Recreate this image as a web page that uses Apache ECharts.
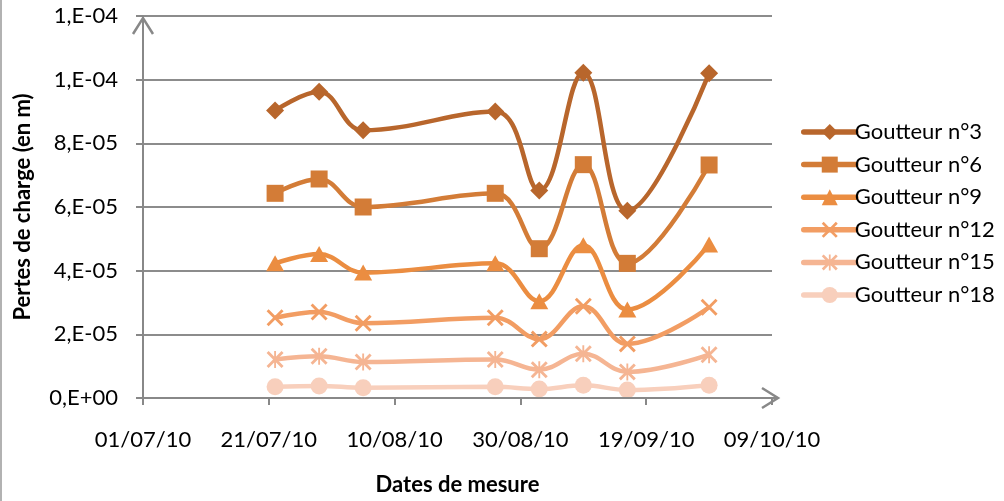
<!DOCTYPE html>
<html>
<head>
<meta charset="utf-8">
<script src="https://cdn.jsdelivr.net/npm/echarts@6/dist/echarts.min.js"></script>
<style>
  html, body { margin: 0; padding: 0; background: #fff; }
  #chart { width: 1004px; height: 501px; }
</style>
</head>
<body>
<div id="chart"></div>
<script>
// dates de mesure (jour/mois/annee)
const dates = ['22/07/10', '29/07/10', '05/08/10', '26/08/10', '02/09/10', '09/09/10', '16/09/10', '29/09/10'];
const seriesNames = ['Goutteur n°3', 'Goutteur n°6', 'Goutteur n°9', 'Goutteur n°12', 'Goutteur n°15', 'Goutteur n°18'];
// pertes de charge (en m)
const g3  = [9.03e-5, 9.62e-5, 8.41e-5, 9.00e-5, 6.52e-5, 10.22e-5, 5.88e-5, 10.20e-5];
const g6  = [6.43e-5, 6.88e-5, 6.00e-5, 6.43e-5, 4.69e-5, 7.33e-5, 4.23e-5, 7.32e-5];
const g9  = [4.23e-5, 4.52e-5, 3.94e-5, 4.23e-5, 3.04e-5, 4.80e-5, 2.78e-5, 4.82e-5];
const g12 = [2.52e-5, 2.70e-5, 2.35e-5, 2.52e-5, 1.85e-5, 2.88e-5, 1.70e-5, 2.85e-5];
const g15 = [1.21e-5, 1.31e-5, 1.13e-5, 1.21e-5, 0.89e-5, 1.39e-5, 0.82e-5, 1.36e-5];
const g18 = [0.35e-5, 0.38e-5, 0.32e-5, 0.35e-5, 0.28e-5, 0.40e-5, 0.25e-5, 0.40e-5];
const xTickStart = '01/07/10';

const colors = ['#B8662C', '#D37C37', '#EB8D41', '#F29D63', '#F5B593', '#F8CFBC'];
const FONT = 'Lato, "Open Sans", sans-serif';
const FS = 22;

function parseDate(s) {
    const p = s.split('/');
    return Date.UTC(2000 + (+p[2]), (+p[1]) - 1, +p[0]);
}
const DAY = 86400000;
const t0 = parseDate(xTickStart);
function dayOf(s) { return Math.round((parseDate(s) - t0) / DAY); }
function dayLabel(d) {
    const dt = new Date(t0 + d * DAY);
    const pad = n => (n < 10 ? '0' : '') + n;
    return pad(dt.getUTCDate()) + '/' + pad(dt.getUTCMonth() + 1) + '/' + pad(dt.getUTCFullYear() % 100);
}
// format Excel "0,E+00"
function sciLabel(v) {
    if (Math.abs(v) < 1e-20) return '0,E+00';
    let e = Math.floor(Math.log10(Math.abs(v)));
    let m = Math.round(v / Math.pow(10, e));
    if (m >= 10) { m = m / 10; e += 1; }
    const sign = e < 0 ? '-' : '+';
    const ae = Math.abs(e);
    return m + ',E' + sign + (ae < 10 ? '0' : '') + ae;
}

// symbols
const symX = 'path://M0,1.2L1.2,0L5,3.8L8.8,0L10,1.2L6.2,5L10,8.8L8.8,10L5,6.2L1.2,10L0,8.8L3.8,5Z';
const symStar = 'path://M0,1.2L1.2,0L5,3.8L8.8,0L10,1.2L6.2,5L10,8.8L8.8,10L5,6.2L1.2,10L0,8.8L3.8,5Z' +
    'M4.45,0L5.55,0L5.55,10L4.45,10Z';
const symbols = ['diamond', 'rect', 'triangle', symX, symStar, 'circle'];
const sizes = [[18, 18], [17, 17], [18, 16], [17, 17], [17, 17], [17, 17]];
const values = [g3, g6, g9, g12, g15, g18];

const chart = echarts.init(document.getElementById('chart'), null, { renderer: 'canvas' });

const series = values.map((vals, i) => ({
    name: seriesNames[i],
    type: 'line',
    smooth: 0.4,
    data: dates.map((d, k) => [dayOf(d), vals[k]]),
    symbol: symbols[i],
    symbolSize: sizes[i],
    symbolKeepAspect: true,
    showAllSymbol: true,
    lineStyle: { color: colors[i], width: 4.5 },
    itemStyle: { color: colors[i], borderWidth: 0 },
    z: 10 - i,
    animation: false
}));

chart.setOption({
    animation: false,
    textStyle: { fontFamily: FONT },
    grid: { left: 143, right: 232, top: 16, bottom: 98, containLabel: false },
    legend: {
        orient: 'vertical',
        left: 796,
        top: 116,
        itemWidth: 52,
        itemHeight: 20,
        itemGap: 10.6,
        data: seriesNames,
        lineStyle: { width: 5.5, cap: 'round' },
        textStyle: { fontFamily: FONT, fontSize: FS, lineHeight: 20, color: '#000', padding: [0, 0, 0, -6] }
    },
    xAxis: {
        type: 'value',
        min: 0,
        max: 100,
        interval: 20,
        name: 'Dates de mesure',
        nameLocation: 'middle',
        nameGap: 76,
        nameTextStyle: { fontFamily: FONT, fontSize: FS, fontWeight: 'bold', color: '#000' },
        axisLine: { lineStyle: { color: '#888', width: 2 } },
        axisTick: { show: true, length: 7, lineStyle: { color: '#888', width: 2 } },
        axisLabel: {
            formatter: v => dayLabel(v), margin: 31, fontSize: FS, color: '#000',
            fontFamily: FONT, showMaxLabel: true, showMinLabel: true
        },
        splitLine: { show: false }
    },
    yAxis: {
        type: 'value',
        min: 0,
        max: 1.2e-4,
        interval: 2e-5,
        name: 'Pertes de charge (en m)',
        nameLocation: 'middle',
        nameRotate: 90,
        nameGap: 109,
        nameTextStyle: { fontFamily: FONT, fontSize: FS, fontWeight: 'bold', color: '#000' },
        axisLine: { show: true, lineStyle: { color: '#888', width: 2 } },
        axisTick: { show: true, length: 7, lineStyle: { color: '#888', width: 2 } },
        axisLabel: { formatter: v => sciLabel(v), margin: 25, fontSize: FS, color: '#000', fontFamily: FONT },
        splitLine: { show: true, lineStyle: { color: '#8c8c8c', width: 2 } }
    },
    series: series
});

// arrowheads and frame
const origin = chart.convertToPixel({ xAxisIndex: 0, yAxisIndex: 0 }, [0, 0]);
const yTop = chart.convertToPixel({ yAxisIndex: 0 }, 1.2e-4);
const xEnd = chart.convertToPixel({ xAxisIndex: 0 }, 100);
chart.setOption({
    graphic: [
        {
            type: 'polyline', silent: true, z: 50,
            shape: { points: [[origin[0] - 10, yTop + 18], [origin[0], yTop + 2], [origin[0] + 10, yTop + 18]] },
            style: { stroke: '#888', lineWidth: 2.5, fill: null }
        },
        {
            type: 'line', silent: true, z: 50,
            shape: { x1: origin[0], y1: origin[1], x2: xEnd + 6, y2: origin[1] },
            style: { stroke: '#888', lineWidth: 2 }
        },
        {
            type: 'polyline', silent: true, z: 50,
            shape: { points: [[xEnd - 10, origin[1] - 10], [xEnd + 6, origin[1]], [xEnd - 10, origin[1] + 10]] },
            style: { stroke: '#888', lineWidth: 2.5, fill: null }
        },
        {
            type: 'line', silent: true, z: 50,
            shape: { x1: 1, y1: 0, x2: 1, y2: 501 },
            style: { stroke: '#999', lineWidth: 1.5 }
        }
    ]
});
</script>
</body>
</html>
